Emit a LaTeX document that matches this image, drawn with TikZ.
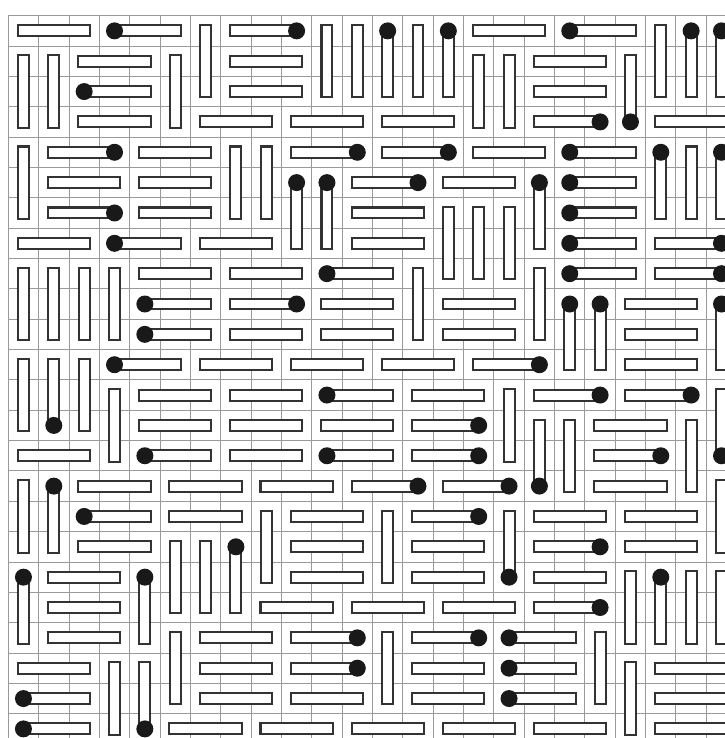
\documentclass[tikz,border=0pt]{standalone}
\usepackage{tikz}
\tikzstyle{cellgrid}=[draw=gray!80,line width=0.45pt]
\tikzstyle{rod}=[draw=black!80,fill=white,line width=0.95pt]
\tikzstyle{bead}=[fill=black!90]

\begin{document}
\begin{tikzpicture}[scale=0.5]
\useasboundingbox (-0.273,0.517) rectangle (23.61,-23.80);
\clip (-0.273,0.517) rectangle (23.61,-23.80);
\draw[cellgrid] (0,0) grid (24,-24);
% horizontal trimers
\foreach \r/\c in {0/0,0/15,1/2,1/7,1/17,2/7,2/17,3/2,3/6,3/9,3/12,3/21,4/4,4/15,5/1,5/4,5/14,6/4,6/11,7/0,7/6,7/11,8/4,8/7,9/10,9/14,9/20,10/7,10/10,10/14,10/20,11/6,11/9,11/12,11/20,12/4,12/7,12/13,13/4,13/7,13/10,13/19,14/0,14/7,15/2,15/5,15/8,15/19,16/5,16/9,16/17,16/20,17/2,17/9,17/13,17/20,18/1,18/9,18/13,18/17,19/1,19/8,19/11,19/14,20/1,20/6,21/0,21/6,21/13,21/21,22/6,22/9,22/13,22/21,23/5,23/8,23/11,23/14,23/17,23/21}
  \draw[rod] (\c+0.31,-\r-0.32) rectangle (\c+2.69,-\r-0.68);
\foreach \r/\c in {0/3,0/18,2/2,4/18,5/18,6/18,7/3,7/18,8/10,8/18,9/4,10/4,11/3,12/10,14/4,14/10,16/2,20/16,21/16,22/0,22/16,23/0}
  {\draw[rod] (\c+0.5,-\r-0.32) rectangle (\c+2.69,-\r-0.68);
   \fill[bead] (\c+0.5,-\r-0.5) circle (0.28);}
\foreach \r/\c in {0/7,3/17,4/1,4/9,4/12,5/11,6/1,7/21,8/21,9/7,11/15,12/17,12/20,13/13,14/13,14/19,15/11,15/14,16/13,17/17,19/17,20/9,20/13,21/9}
  {\draw[rod] (\c+0.31,-\r-0.32) rectangle (\c+2.5,-\r-0.68);
   \fill[bead] (\c+2.5,-\r-0.5) circle (0.28);}
% vertical trimers
\foreach \r/\c in {0/6,0/10,0/11,0/13,0/21,1/0,1/1,1/5,1/15,1/16,4/0,4/7,4/8,4/22,6/14,6/15,6/16,8/0,8/1,8/2,8/3,8/13,8/17,11/0,11/2,12/3,12/16,13/18,13/22,15/0,15/23,16/8,16/12,17/5,17/6,18/20,18/22,18/23,20/5,20/12,20/19,21/3,21/20}
  \draw[rod] (\c+0.32,-\r-0.31) rectangle (\c+0.68,-\r-2.69);
\foreach \r/\c in {0/12,0/14,0/22,0/23,4/21,4/23,5/9,5/10,5/17,9/18,9/19,9/23,15/1,17/7,18/0,18/4,18/21}
  {\draw[rod] (\c+0.32,-\r-0.5) rectangle (\c+0.68,-\r-2.69);
   \fill[bead] (\c+0.5,-\r-0.5) circle (0.28);}
\foreach \r/\c in {1/20,11/1,12/23,13/17,16/16,21/4}
  {\draw[rod] (\c+0.32,-\r-0.31) rectangle (\c+0.68,-\r-2.5);
   \fill[bead] (\c+0.5,-\r-2.5) circle (0.28);}
\end{tikzpicture}
\end{document}
